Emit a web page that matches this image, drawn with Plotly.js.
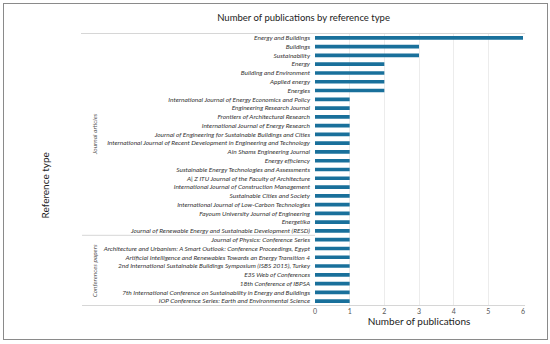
<!DOCTYPE html>
<html>
<head>
<meta charset="utf-8">
<script src="https://cdn.plot.ly/plotly-3.0.1.min.js"></script>
<style>
html,body{margin:0;padding:0;background:#fff;}
#wrap{position:relative;width:550px;height:344px;}
#chart{width:550px;height:344px;}
#frame{position:absolute;left:3px;top:3px;width:543px;height:335px;border:1.5px solid #8a8a8a;pointer-events:none;}
</style>
</head>
<body>
<div id="wrap"><div id="chart"></div><div id="frame"></div></div>
<script>
const journals = [
  "Energy and Buildings",
  "Buildings",
  "Sustainability",
  "Energy",
  "Building and Environment",
  "Applied energy",
  "Energies",
  "International Journal of Energy Economics and Policy",
  "Engineering Research Journal",
  "Frontiers of Architectural Research",
  "International Journal of Energy Research",
  "Journal of Engineering for Sustainable Buildings and Cities",
  "International Journal of Recent Development in Engineering and Technology",
  "Ain Shams Engineering Journal",
  "Energy efficiency",
  "Sustainable Energy Technologies and Assessments",
  "A| Z ITU Journal of the Faculty of Architecture",
  "International Journal of Construction Management",
  "Sustainable Cities and Society",
  "International Journal of Low-Carbon Technologies",
  "Fayoum University Journal of Engineering",
  "Energetika",
  "Journal of Renewable Energy and Sustainable Development (RESD)"
];
const journalCounts = [6,3,3,2,2,2,2,1,1,1,1,1,1,1,1,1,1,1,1,1,1,1,1];
const conferences = [
  "Journal of Physics: Conference Series",
  "Architecture and Urbanism: A Smart Outlook: Conference Proceedings, Egypt",
  "Artificial Intelligence and Renewables Towards an Energy Transition 4",
  "2nd International Sustainable Buildings Symposium (ISBS 2015), Turkey",
  "E3S Web of Conferences",
  "18th Conference of IBPSA",
  "7th International Conference on Sustainability in Energy and Buildings",
  "IOP Conference Series: Earth and Environmental Science"
];
const conferenceCounts = [1,1,1,1,1,1,1,1];
const groupLabels = ["Journal articles", "Conferences papers"];
const xTicks = [0,1,2,3,4,5,6];

const cats = journals.concat(conferences);
const vals = journalCounts.concat(conferenceCounts);
const nJ = journals.length, nAll = cats.length;

const FONT = "Lato, sans-serif";
const lineColor = "#d6d6d6";
const shapes = [
  {type:"line", xref:"paper", yref:"y", x0:-1.125, x1:1.01, y0:-0.5, y1:-0.5, line:{color:lineColor,width:1}},
  {type:"line", xref:"paper", yref:"y", x0:-1.12, x1:0, y0:nJ-0.5, y1:nJ-0.5, line:{color:lineColor,width:1}},
  {type:"line", xref:"paper", yref:"y", x0:-1.12, x1:1.01, y0:nAll-0.5, y1:nAll-0.5, line:{color:lineColor,width:1}}
];
const annotations = [
  {text:groupLabels[0], xref:"paper", yref:"y", x:-1.085, y:(nJ-1)/2, textangle:-90, showarrow:false,
   font:{family:FONT, size:6.5, color:"#555", style:"italic"}},
  {text:groupLabels[1], xref:"paper", yref:"y", x:-1.085, y:nJ+(conferences.length-1)/2, textangle:-90, showarrow:false,
   font:{family:FONT, size:6.5, color:"#555", style:"italic"}},
  {text:"Reference type", xref:"paper", yref:"paper", x:-1.335, y:0.443, textangle:-90, showarrow:false,
   font:{family:FONT, size:10, color:"#222"}}
];

Plotly.newPlot("chart", [{
  type:"bar", orientation:"h", x:vals, y:cats,
  marker:{color:"#19709b"}, width:0.42, hoverinfo:"x+y"
}], {
  width:550, height:344,
  margin:{l:315, r:27, t:33, b:38},
  paper_bgcolor:"#fff", plot_bgcolor:"#fff",
  showlegend:false,
  title:{text:"Number of publications by reference type", x:0.552, xanchor:"center", y:0.948, yanchor:"middle",
         font:{family:FONT, size:9.5, color:"#222"}},
  xaxis:{range:[0,6], tickvals:xTicks, ticktext:xTicks.map(String), showgrid:true, gridcolor:"#ececec", gridwidth:1,
         zeroline:false, showline:false, ticks:"", tickfont:{family:FONT, size:7, color:"#555"},
         title:{text:"Number of publications", standoff:1, font:{family:FONT, size:10, color:"#222"}}},
  yaxis:{type:"category", autorange:"reversed", showgrid:false, zeroline:false, showline:false, ticks:"",
         ticklabelstandoff:4,
         tickfont:{family:FONT, size:6.5, color:"#333", style:"italic"}},
  shapes:shapes, annotations:annotations
}, {displayModeBar:false, staticPlot:true});
</script>
</body>
</html>
